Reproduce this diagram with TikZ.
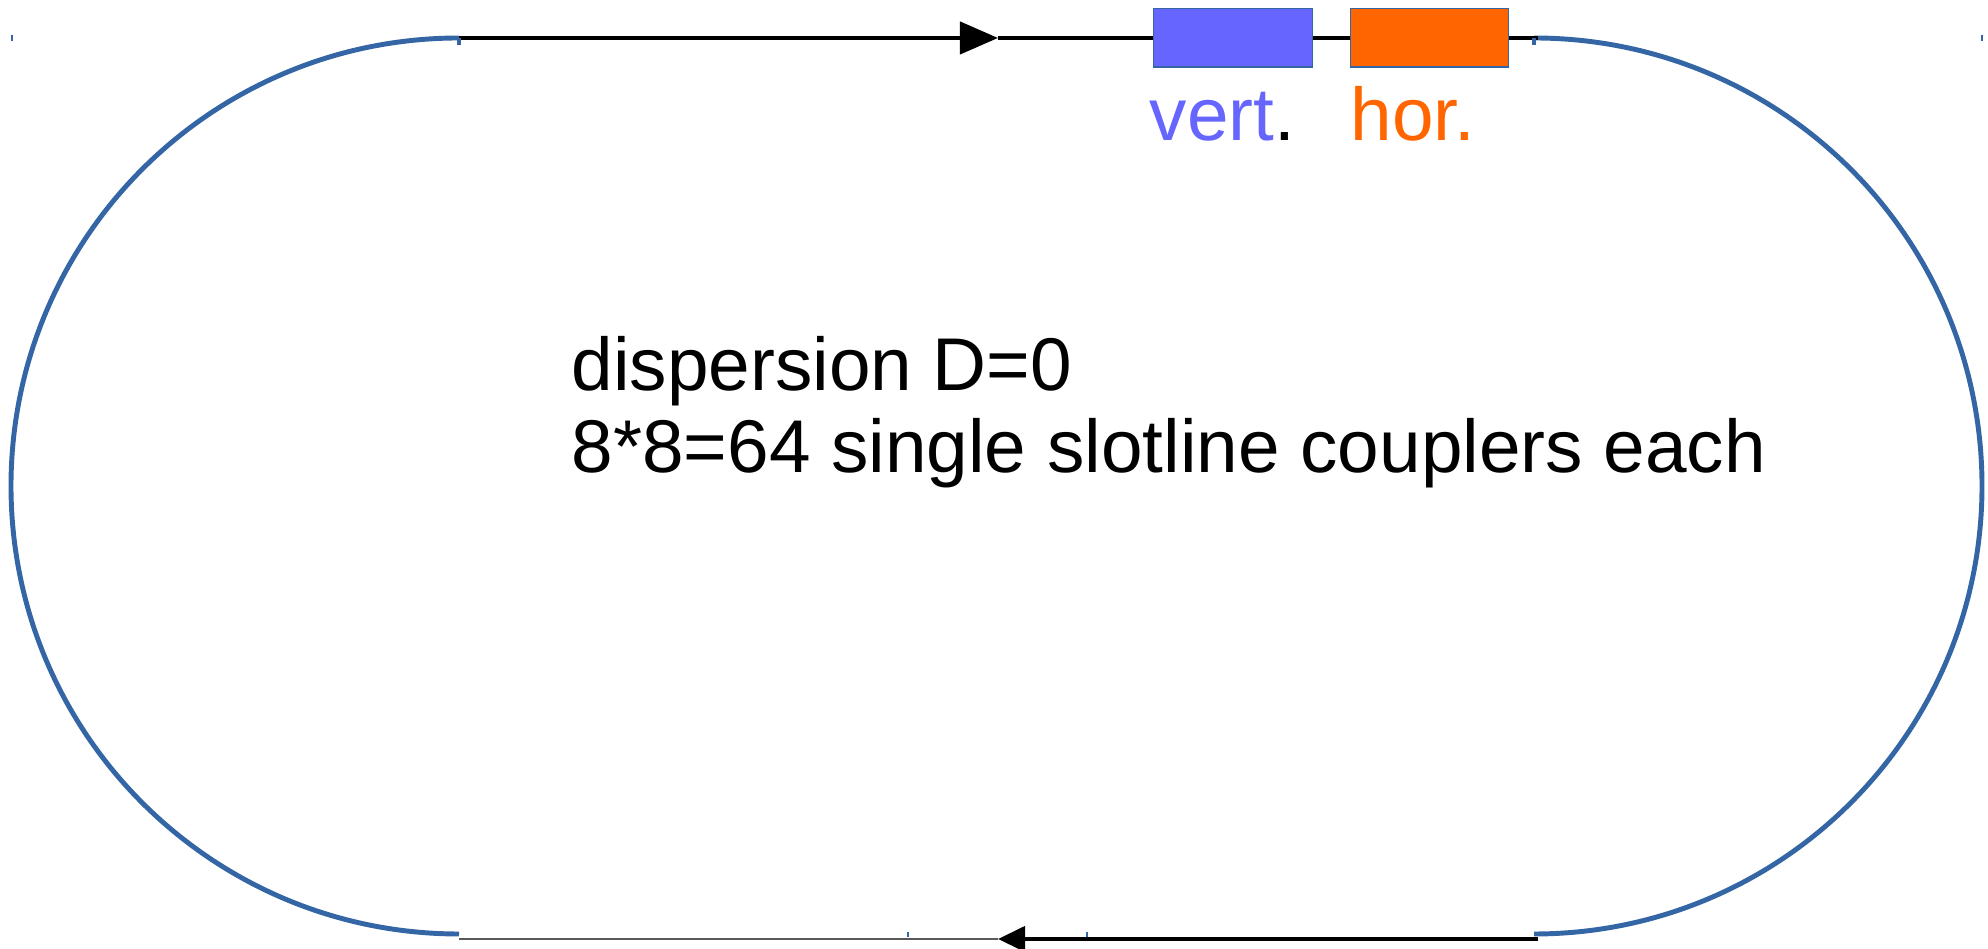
\documentclass[tikz,border=0pt]{standalone}
\usepackage{fontspec}
\setmainfont{Liberation Sans}
\usetikzlibrary{arrows.meta}
\definecolor{arcblue}{HTML}{3465A4}
\definecolor{vblue}{HTML}{6666FF}
\definecolor{horange}{HTML}{FF6600}
\begin{document}
\begin{tikzpicture}[x=0.01cm,y=0.01cm,
  arcline/.style={draw=arcblue,line width=1.4pt},
  beamline/.style={draw=black,line width=1.2pt},
  thinline/.style={draw=black!65,line width=0.7pt},
  tickmark/.style={draw=arcblue,line width=0.4pt},
  magnet/.style={draw=arcblue,line width=0.3pt,minimum width=1.58cm,minimum height=0.58cm,inner sep=0pt},
  lbl/.style={inner sep=0pt,font=\fontsize{21.25pt}{25pt}\selectfont},
  toptip/.style={-{Triangle[length=0.38cm,width=0.32cm]}},
  bottip/.style={-{Triangle[length=0.27cm,width=0.25cm]}}]
\useasboundingbox (0,0) rectangle (1988,949);
% coordinates of arc ends
\coordinate (tl) at (459,911);
\coordinate (tr) at (1538,911);
\coordinate (bl) at (459,10);
\coordinate (br) at (1538,10);
\coordinate (tmid) at (998,911);
\coordinate (bmid) at (998,10);
% arcs
\draw[arcline] (tl) arc[start angle=90,end angle=270,radius=448];
\draw[arcline] (1534,911) arc[start angle=90,end angle=-90,radius=448];
% magnets
\node[magnet,fill=vblue] (vbox) at (1233,911) {};
\node[magnet,fill=horange] (hbox) at (1429.5,911) {};
% top beam line
\draw[beamline,toptip] (tl) -- (tmid);
\draw[beamline] (tmid) -- (vbox.west);
\draw[beamline] (vbox.east) -- (hbox.west);
\draw[beamline] (hbox.east) -- (tr);
% bottom beam line
\draw[beamline,bottip] (br) -- (bmid);
\draw[thinline] (bmid) -- (bl);
% small tick marks
\draw[tickmark,line width=0.9pt] (tl) -- ++(0,-7);
\draw[tickmark,line width=0.9pt] (1534,911) -- ++(0,-7);
\draw[tickmark] (12,914) -- ++(0,-6);
\draw[tickmark] (1982,914) -- ++(0,-6);
\draw[tickmark] (908,17) -- ++(0,-5);
\draw[tickmark] (1087,17) -- ++(0,-5);
% labels
\node[lbl,anchor=base west,text=vblue] (vlab) at (1149,808) {vert\textcolor{black}{.}};
\node[lbl,anchor=base west,text=horange] (hlab) at (1350,808) {hor.};
\node[lbl,anchor=base west] (t1) at (571,558) {dispersion D=0};
\node[lbl,anchor=base west] (t2) at (571,476) {8*8=64 single slotline couplers each};
\end{tikzpicture}
\end{document}
